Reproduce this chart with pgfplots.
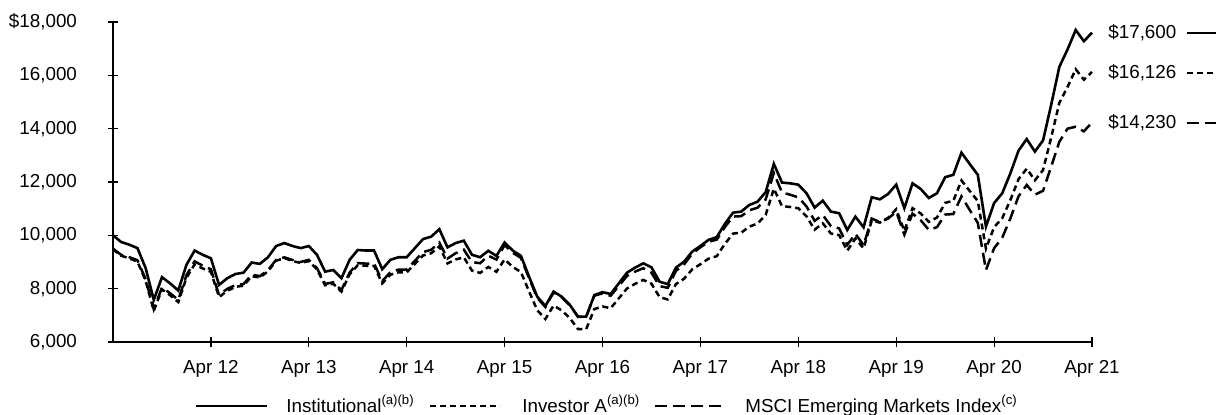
\documentclass[border=0pt]{standalone}
\usepackage{pgfplots}
\usepackage{pgfplotstable}
\usepackage{fontspec}
\setmainfont{Liberation Sans}
\pgfplotsset{compat=1.18}

\pgfplotstableread{
i inst inva msci
0 10000 9475 9500
1 9750 9236 9269
2 9650 9138 9181
3 9520 9013 9064
4 8770 8300 8356
5 7580 7172 7228
6 8430 7974 8044
7 8200 7755 7830
8 7930 7497 7578
9 8890 8402 8501
10 9430 8910 9025
11 9270 8757 8861
12 9140 8632 8727
13 8140 7685 7763
14 8390 7919 7992
15 8550 8068 8135
16 8600 8113 8174
17 8980 8469 8526
18 8930 8419 8468
19 9180 8653 8695
20 9600 9046 9083
21 9710 9147 9176
22 9600 9041 9075
23 9520 8963 9002
24 9600 9036 9081
25 9270 8723 8772
26 8640 8128 8179
27 8700 8182 8238
28 8390 7888 7947
29 9080 8535 8603
30 9450 8880 8957
31 9430 8859 8942
32 9430 8857 8944
33 8730 8197 8283
34 9080 8523 8618
35 9180 8615 8715
36 9180 8612 8718
37 9520 8929 9045
38 9860 9245 9371
39 9950 9327 9459
40 10230 9587 9729
41 9550 8947 9129
42 9710 9094 9329
43 9800 9176 9463
44 9270 8677 8997
45 9180 8591 8954
46 9420 8813 9234
47 9230 8633 9092
48 9730 9098 9633
49 9430 8815 9345
50 9230 8625 9156
51 8450 7894 8391
52 7700 7192 7654
53 7350 6863 7313
54 7890 7365 7858
55 7700 7186 7677
56 7390 6894 7375
57 6950 6482 6943
58 6950 6480 6950
59 7760 7234 7738
60 7870 7334 7825
61 7800 7267 7733
62 8200 7637 8106
63 8600 8008 8476
64 8790 8182 8639
65 8950 8329 8770
66 8800 8187 8598
67 8260 7682 8095
68 8170 7597 8031
69 8790 8171 8667
70 9010 8373 8911
71 9390 8724 9315
72 9600 8916 9552
73 9830 9127 9760
74 9930 9218 9838
75 10430 9679 10311
76 10850 10066 10703
77 10890 10100 10719
78 11140 10329 10941
79 11260 10438 11035
80 11620 10768 11347
81 12680 11747 12338
82 11980 11096 11605
83 11950 11065 11523
84 11900 11015 11424
85 11580 10716 11088
86 11040 10214 10543
87 11300 10451 10763
88 10890 10069 10346
89 10830 10011 10261
90 10200 9426 9639
91 10700 9885 10058
92 10300 9513 9631
93 11430 10554 10630
94 11350 10477 10499
95 11550 10658 10626
96 11900 10978 10889
97 11020 10164 10028
98 11950 11018 10815
99 11740 10821 10566
100 11400 10505 10203
101 11580 10668 10306
102 12180 11218 10779
103 12270 11297 10798
104 13100 12058 11463
105 12680 11668 10956
106 12270 11288 10466
107 10330 9500 8698
108 11210 10307 9517
109 11580 10644 9912
110 12330 11330 10641
111 13180 12108 11467
112 13610 12499 11888
113 13140 12064 11524
114 13560 12446 11671
115 14900 13672 12580
116 16320 14971 13513
117 16970 15563 14000
118 17700 16228 14072
119 17280 15838 13900
120 17600 16126 14230
}\datatable

\begin{document}
\begin{tikzpicture}
\begin{axis}[
  at={(0pt,0pt)}, anchor=south west,
  scale only axis, width=489.5pt, height=160pt,
  xmin=0, xmax=120, ymin=6000, ymax=18000,
  axis lines=left, axis line style={-, line width=0.6pt},
  tick align=center, major tick length=5pt,
  tick style={line width=0.6pt, black},
  xtick={12,24,36,48,60,72,84,96,108,120},
  xticklabels={Apr 12,Apr 13,Apr 14,Apr 15,Apr 16,Apr 17,Apr 18,Apr 19,Apr 20,Apr 21},
  ytick={6000,8000,10000,12000,14000,16000,18000},
  yticklabels={6{,}000,8{,}000,10{,}000,12{,}000,14{,}000,16{,}000,\$18{,}000},
  scaled y ticks=false, scaled x ticks=false,
  tick label style={font=\fontsize{9.4}{11}\selectfont},
  yticklabel style={xshift=-12pt},
  xticklabel style={yshift=-3pt},
  clip=false,
]
\addplot[black, line width=1.25pt, dash pattern=on 6pt off 3pt] table[x=i, y=msci] {\datatable};
\addplot[black, line width=1.25pt, dash pattern=on 3pt off 2pt] table[x=i, y=inva] {\datatable};
\addplot[black, line width=1.3pt] table[x=i, y=inst] {\datatable};
\end{axis}
% right-hand end labels
\begin{scope}[font=\fontsize{9.4}{11}\selectfont]
\node[anchor=west, inner sep=0pt] at (497.5pt,154.5pt) {\$17,600};
\node[anchor=west, inner sep=0pt] at (497.5pt,134.5pt) {\$16,126};
\node[anchor=west, inner sep=0pt] at (497.5pt,109.5pt) {\$14,230};
\draw[line width=1.25pt] (537pt,154.5pt) -- (560pt,154.5pt);
\draw[line width=1.25pt, dash pattern=on 3pt off 2pt] (537pt,134.5pt) -- (560pt,134.5pt);
\draw[line width=1.25pt, dash pattern=on 6pt off 3pt] (537pt,109.5pt) -- (560pt,109.5pt);
% legend
\draw[line width=1.3pt] (41.5pt,-32pt) -- (77pt,-32pt);
\node[anchor=base west, inner sep=0pt] at (86.5pt,-35pt) {Institutional\textsuperscript{(a)(b)}};
\draw[line width=1.25pt, dash pattern=on 3pt off 2pt] (158.5pt,-32pt) -- (193.5pt,-32pt);
\node[anchor=base west, inner sep=0pt] at (204.5pt,-35pt) {Investor A\textsuperscript{(a)(b)}};
\draw[line width=1.25pt, dash pattern=on 6pt off 3pt] (271pt,-32pt) -- (304.5pt,-32pt);
\node[anchor=base west, inner sep=0pt] at (316pt,-35pt) {MSCI Emerging Markets Index\textsuperscript{(c)}};
\end{scope}
\pgfresetboundingbox
\useasboundingbox (-56.5pt,-36pt) rectangle (551.5pt,171pt);
\end{tikzpicture}
\end{document}
